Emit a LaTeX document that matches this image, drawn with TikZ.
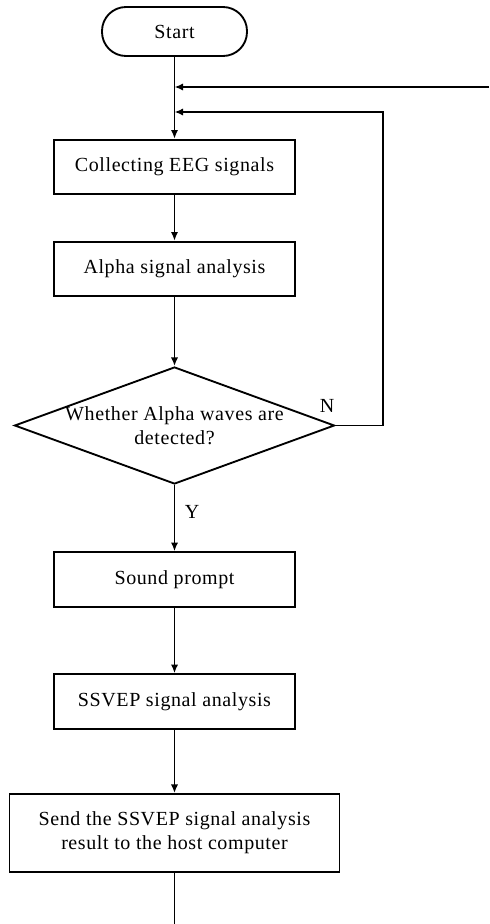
\documentclass[tikz,border=0pt]{standalone}
\usepackage{fontspec}
\setmainfont{Liberation Serif}[LetterSpace=3]
\usepackage{tikz}
\usetikzlibrary{arrows.meta}
\usetikzlibrary{shapes.geometric}

\tikzset{
  txt/.style={font=\fontsize{15}{18}\selectfont},
  terminal/.style={draw, txt, line width=1.4pt, rounded corners=18pt,
    minimum width=108.75pt, minimum height=36.75pt},
  proc/.style={draw, txt, line width=1.4pt, align=center,
    minimum width=180.75pt, minimum height=41pt},
  decision/.style={draw, diamond, line width=1.4pt, inner sep=0pt,
    minimum width=240pt, minimum height=87.75pt},
  flow/.style={-{Latex[length=6.5pt,width=5.5pt]}, line width=1.3pt},
  tag/.style={txt, inner sep=0pt}
}

\begin{document}
\begin{tikzpicture}[x=0.75pt, y=-0.75pt]
\useasboundingbox (0,0) rectangle (489,924);

% main column
\node[terminal] (start) at (174.5,31.5) {Start};
\node[proc] (collect) at (174.5,167) {Collecting EEG signals};
\node[proc] (alpha) at (174.5,269) {Alpha signal analysis};
\node[decision, label={[txt, align=center]center:Whether Alpha waves are\\detected?}] (detect) at (174.5,425.5) {};
\node[proc] (sound) at (174.5,579.5) {Sound prompt};
\node[proc] (ssvep) at (174.5,701.5) {SSVEP signal analysis};
\node[proc, minimum width=247.5pt, minimum height=58.5pt] (result) at (174.5,833)
  {Send the SSVEP signal analysis\\result to the host computer};

% branch marks
\node[tag] (nomark) at (327,406) {N};
\node[tag] (yesmark) at (192,512) {Y};

% free ends
\coordinate (feedin) at (489,87);
\coordinate (loopback) at (383,112);
\coordinate (exit) at (174.5,924);

\draw [flow] (start) -- (collect);
\draw [flow] (collect) -- (alpha);
\draw [flow] (alpha) -- (detect);
\draw [flow] (detect) -- (sound);
\draw [flow] (sound) -- (ssvep);
\draw [flow] (ssvep) -- (result);
\draw [line width=1.3pt] (result) -- (exit);

% feedback lines into the column
\draw [flow] (feedin) -- (feedin -| start);
\draw [flow] (detect.east) -| (loopback) -- (loopback -| start);
\end{tikzpicture}
\end{document}
